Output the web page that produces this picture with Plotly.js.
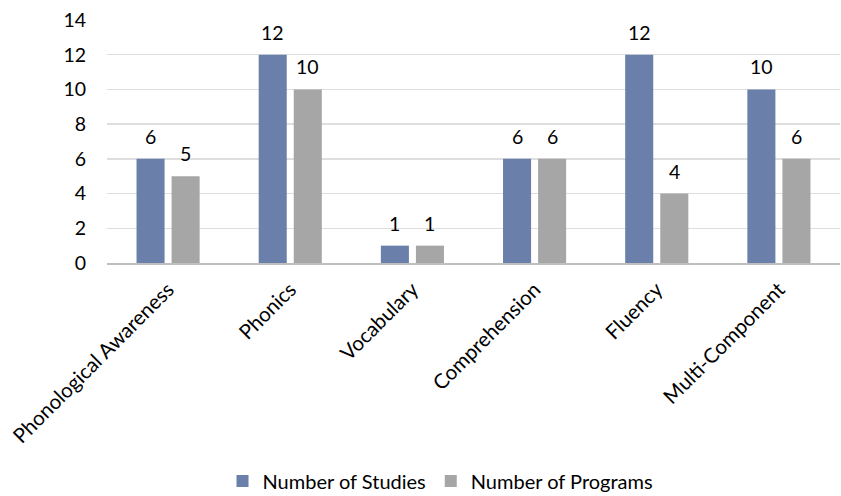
<!DOCTYPE html>
<html>
<head>
<meta charset="utf-8">
<script src="https://cdn.plot.ly/plotly-3.0.1.min.js"></script>
<style>html,body{margin:0;padding:0;background:#fff;}#chart{width:841px;height:496px;}</style>
</head>
<body>
<div id="chart"></div>
<script>
const categories = ["Phonological Awareness", "Phonics", "Vocabulary", "Comprehension", "Fluency", "Multi-Component"];
const studies = [6, 12, 1, 6, 12, 10];
const programs = [5, 10, 1, 6, 4, 6];
const seriesNames = ["Number of Studies", "Number of Programs"];
const yTicks = [0, 2, 4, 6, 8, 10, 12, 14];

const FONT = "Lato, 'Open Sans', sans-serif";
const blue = "#6a80aa";
const gray = "#a6a6a6";

const traces = [
  {type: "bar", name: seriesNames[0], x: categories, y: studies, marker: {color: blue}, hoverinfo: "none"},
  {type: "bar", name: seriesNames[1], x: categories, y: programs, marker: {color: gray}, hoverinfo: "none"}
];

const annotations = [];
[studies, programs].forEach((vals, si) => {
  vals.forEach((v, i) => {
    annotations.push({
      x: categories[i], y: v, xref: "x", yref: "y",
      text: String(v), showarrow: false,
      yanchor: "bottom", yshift: 9,
      xshift: si === 0 ? -17.5 : 17.5,
      font: {family: FONT, size: 19.5, color: "#000"}
    });
  });
});

const layout = {
  width: 841, height: 496,
  margin: {l: 107, r: 1, t: 20, b: 233},
  paper_bgcolor: "#fff", plot_bgcolor: "#fff",
  font: {family: FONT, size: 19.5, color: "#000"},
  barmode: "group",
  bargap: 0.426,
  bargroupgap: 0.2,
  showlegend: true,
  legend: {
    orientation: "h", x: 0.455, xanchor: "center",
    yref: "container", y: 0.03, yanchor: "middle",
    font: {family: FONT, size: 20, color: "#000"},
    traceorder: "normal", itemclick: false
  },
  xaxis: {
    type: "category",
    tickangle: -45,
    ticks: "outside", ticklen: 5, tickcolor: "rgba(0,0,0,0)",
    showline: true, linecolor: "#bfbfbf", linewidth: 1.5,
    showgrid: false, zeroline: false,
    tickfont: {family: FONT, size: 20.5, color: "#000"}
  },
  yaxis: {
    range: [0, 14],
    tickvals: yTicks,
    ticktext: yTicks.map(String),
    ticks: "outside", ticklen: 16, tickcolor: "rgba(0,0,0,0)",
    showgrid: true, gridcolor: "#dedede", gridwidth: 1.5,
    zeroline: false, showline: false,
    tickfont: {family: FONT, size: 19.5, color: "#000"}
  },
  annotations: annotations
};

Plotly.newPlot("chart", traces, layout, {displayModeBar: false, staticPlot: true});
</script>
</body>
</html>
